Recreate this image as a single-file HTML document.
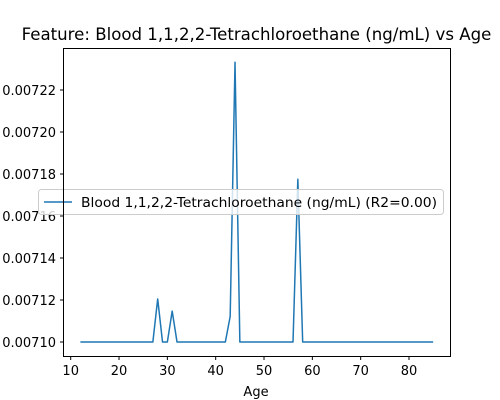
<!DOCTYPE html>
<html><head><meta charset="utf-8"><style>
body{margin:0;background:#fff}
svg{display:block;font-family:"DejaVu Sans","Liberation Sans",sans-serif}
</style></head><body>
<svg id="chart" width="500" height="400" viewBox="0 0 500 400" xmlns="http://www.w3.org/2000/svg">
<text x="256.5" y="40" font-size="16.6" text-anchor="middle" fill="#000">Feature: Blood 1,1,2,2-Tetrachloroethane (ng/mL) vs Age</text>
<g id="plot"></g>
<rect x="63.5" y="48.5" width="387" height="308" fill="none" stroke="#000" stroke-width="1"/>
<text x="256" y="396" font-size="13" text-anchor="middle">Age</text>
</svg>
<script>
const ages=[12,13,14,15,16,17,18,19,20,21,22,23,24,25,26,27,28,29,30,31,32,33,34,35,36,37,38,39,40,41,42,43,44,45,46,47,48,49,50,51,52,53,54,55,56,57,58,59,60,61,62,63,64,65,66,67,68,69,70,71,72,73,74,75,76,77,78,79,80,81,82,83,84,85];
const peaks={28:0.0071205,31:0.0071147,43:0.0071122,44:0.0072332,57:0.0071775};
const values=ages.map(a=>peaks[a]!==undefined?peaks[a]:0.0071);
const xTicks=[10,20,30,40,50,60,70,80];
const yTicks=[0.0071,0.00712,0.00714,0.00716,0.00718,0.0072,0.00722];
const yLabels=["0.00710","0.00712","0.00714","0.00716","0.00718","0.00720","0.00722"];
const NS="http://www.w3.org/2000/svg";
const sx=v=>70.7+(v-10)*(409-70.7)/70;
const sy=v=>342-(v-0.0071)/0.00002*42;
const g=document.getElementById('plot');
function mk(t,a){const e=document.createElementNS(NS,t);for(const k in a)e.setAttribute(k,a[k]);g.appendChild(e);return e;}
xTicks.forEach(t=>{
 const l=mk('line',{x1:sx(t),x2:sx(t),y1:356.5,y2:360,stroke:'#000'});
 
 
 const tx=mk('text',{x:sx(t),y:375,'font-size':13,'text-anchor':'middle'});tx.textContent=t;
 
 
});
yTicks.forEach((t,i)=>{
 const l=mk('line',{x1:60,x2:63.5,y1:sy(t),y2:sy(t),stroke:'#000'});
 
 
 const tx=mk('text',{x:56,y:sy(t)+5,'font-size':13,'text-anchor':'end'});tx.textContent=yLabels[i];
 
 
});
const p=mk('polyline',{points:ages.map((a,i)=>sx(a)+','+sy(values[i])).join(' '),fill:'none',stroke:'#1f77b4','stroke-width':1.5,'stroke-linejoin':'round'});


const lb=mk('rect',{x:38.5,y:189.5,width:405,height:25,rx:3,fill:'#fff','fill-opacity':0.8,stroke:'#ccc'});


const ll=mk('line',{x1:44,x2:72,y1:202,y2:202,stroke:'#1f77b4','stroke-width':1.5});


const lt=mk('text',{x:81,y:207,'font-size':13.5,textLength:356,lengthAdjust:'spacingAndGlyphs'});lt.textContent='Blood 1,1,2,2-Tetrachloroethane (ng/mL) (R2=0.00)';


</script>
</body></html>
